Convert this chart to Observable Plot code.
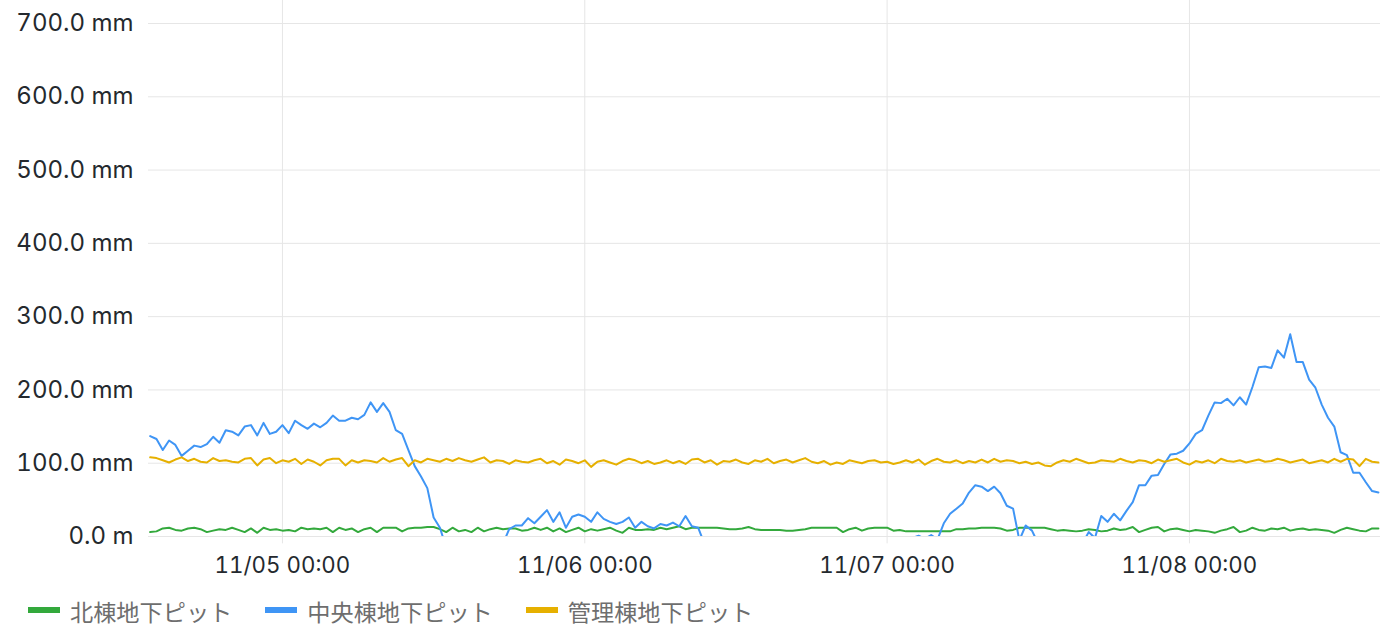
<!DOCTYPE html>
<html>
<head>
<meta charset="utf-8">
<script src="https://cdn.jsdelivr.net/npm/d3@7"></script>
<script src="https://cdn.jsdelivr.net/npm/@observablehq/plot@0.6"></script>
<style>
  body { margin: 0; background: #fff; font-family: Inter, "Noto Sans CJK JP", sans-serif; }
  #chart { position: relative; width: 1380px; }
  .legend { display: flex; align-items: center; margin: 6px 0 0 28px; height: 30px; }
  .legend .item { display: flex; align-items: center; margin-right: 33px; }
  .legend .sw { width: 32px; height: 6px; margin-right: 10px; margin-top: -3px; }
  .legend .lab { font-size: 23.2px; color: #6e6e6e; font-family: "Noto Sans CJK JP", sans-serif; }
</style>
</head>
<body>
<div id="chart"></div>
<script>
// 系列名と色
const series = ["北棟地下ピット", "中央棟地下ピット", "管理棟地下ピット"];
const colors = ["#33a93c", "#3f95f5", "#e6b000"];

// 30分ごとの計測値 (mm)、11/04 13:30 から 11/08 15:00 まで
const start = Date.UTC(2023, 10, 4, 13, 30);
const stepMin = 30;

const kita = [
  6, 7, 11, 12, 9, 8, 11, 12, 10, 6, 8, 10,
  9, 12, 9, 6, 11, 5, 12, 9, 10, 8, 9, 7,
  12, 10, 11, 10, 12, 6, 12, 9, 11, 6, 10, 12,
  6, 12, 12, 12, 7, 11, 12, 12, 13, 13, 10, 6,
  12, 7, 9, 6, 12, 7, 10, 12, 10, 11, 11, 8,
  9, 12, 9, 12, 7, 11, 6, 9, 12, 7, 10, 8,
  10, 12, 8, 5, 12, 9, 9, 10, 9, 12, 10, 12,
  14, 10, 12, 12, 12, 12, 12, 11, 10, 10, 11, 13,
  10, 9, 9, 9, 9, 8, 8, 9, 10, 12, 12, 12,
  12, 12, 6, 10, 12, 8, 11, 12, 12, 12, 8, 9,
  7, 7, 7, 7, 7, 7, 7, 7, 10, 10, 11, 11,
  12, 12, 12, 11, 8, 9, 12, 12, 12, 12, 12, 10,
  8, 9, 8, 7, 8, 10, 9, 7, 8, 11, 9, 10,
  13, 6, 9, 12, 13, 7, 10, 11, 9, 7, 9, 8,
  7, 5, 8, 10, 13, 6, 8, 12, 9, 8, 11, 10,
  12, 8, 10, 11, 9, 10, 9, 8, 5, 9, 12, 10,
  8, 7, 11, 11
];

const chuo = [
  137, 133, 118, 131, 125, 110, 117, 124, 122, 126, 136, 128,
  145, 143, 138, 150, 152, 138, 155, 140, 143, 152, 141, 158,
  152, 147, 154, 149, 155, 165, 158, 158, 162, 160, 166, 183,
  170, 182, 170, 145, 140, 118, 96, 82, 66, 26, 12, -15,
  -30, -40, -45, -50, -45, -40, -35, -25, -10, 10, 15, 15,
  25, 18, 27, 36, 20, 33, 12, 27, 30, 27, 20, 33,
  24, 20, 17, 20, 26, 12, 20, 14, 11, 17, 15, 19,
  14, 28, 14, 12, -10, -30, -45, -55, -60, -65, -70, -70,
  -72, -75, -75, -78, -80, -80, -78, -75, -72, -70, -68, -65,
  -62, -58, -55, -50, -45, -40, -35, -30, -25, -20, -15, -10,
  -8, -2, 1, -3, 2, -4, 18, 31, 38, 45, 60, 70,
  68, 62, 68, 59, 42, 38, -5, 15, 8, -10, -25, -35,
  -40, -38, -30, -20, -10, 6, -2, 28, 20, 31, 22, 35,
  47, 70, 70, 83, 84, 99, 112, 113, 117, 127, 140, 145,
  165, 183, 182, 188, 179, 190, 180, 204, 231, 232, 230, 254,
  244, 276, 238, 238, 214, 203, 180, 162, 150, 115, 111, 87,
  87, 74, 62, 60
];

const kanri = [
  108, 107, 104, 101, 105, 108, 103, 106, 102, 101, 107, 103,
  104, 102, 101, 106, 107, 97, 105, 107, 100, 104, 102, 106,
  99, 105, 102, 97, 104, 106, 106, 97, 104, 101, 104, 103,
  101, 107, 102, 105, 107, 96, 104, 101, 106, 104, 102, 106,
  103, 107, 104, 102, 105, 108, 101, 104, 103, 99, 104, 102,
  101, 104, 106, 100, 103, 98, 105, 103, 100, 104, 95, 102,
  104, 101, 98, 103, 106, 104, 100, 103, 99, 101, 104, 100,
  103, 99, 105, 106, 101, 104, 98, 103, 102, 105, 101, 99,
  104, 102, 106, 100, 103, 105, 101, 104, 107, 102, 100, 103,
  98, 101, 99, 104, 102, 100, 103, 104, 101, 102, 99, 101,
  104, 101, 105, 98, 103, 106, 102, 101, 104, 100, 103, 101,
  105, 101, 106, 102, 104, 103, 100, 102, 99, 101, 97, 96,
  101, 104, 102, 106, 103, 100, 101, 104, 103, 102, 106, 103,
  101, 104, 103, 100, 105, 102, 104, 106, 101, 98, 103, 101,
  104, 100, 106, 103, 102, 104, 101, 103, 105, 102, 103, 106,
  104, 101, 103, 105, 100, 102, 104, 101, 106, 102, 106, 105,
  96, 106, 102, 101
];

// 軸の目盛り
const yTicks = [0, 100, 200, 300, 400, 500, 600, 700];
const yTickLabels = ["0.0 m", "100.0 mm", "200.0 mm", "300.0 mm", "400.0 mm", "500.0 mm", "600.0 mm", "700.0 mm"];
const xTicks = [
  new Date(Date.UTC(2023, 10, 5)),
  new Date(Date.UTC(2023, 10, 6)),
  new Date(Date.UTC(2023, 10, 7)),
  new Date(Date.UTC(2023, 10, 8))
];
const xDomain = [new Date(Date.UTC(2023, 10, 4, 13, 22)), new Date(Date.UTC(2023, 10, 8, 15, 10))];

// 縦長のテーブルにまとめる
const table = [];
[kita, chuo, kanri].forEach((vals, s) => {
  vals.forEach((v, i) => {
    table.push({time: new Date(start + i * stepMin * 60000), value: v, series: series[s]});
  });
});

const fmt = d3.utcFormat("%m/%d %H:%M");

const chart = Plot.plot({
  width: 1380,
  height: 590,
  marginTop: 23,
  marginBottom: 54,
  marginLeft: 148,
  marginRight: 0,
  style: {fontFamily: "Inter, sans-serif", fontSize: "24px", color: "#24292e", overflow: "visible"},
  x: {type: "utc", domain: xDomain, label: null},
  y: {domain: [0, 700], label: null},
  color: {domain: series, range: colors},
  marks: [
    Plot.ruleY(yTicks, {stroke: "#e6e6e6", strokeWidth: 1, strokeOpacity: 1}),
    Plot.ruleX(xTicks, {y1: -10, y2: 732, stroke: "#e6e6e6", strokeWidth: 1, strokeOpacity: 1}),
    Plot.axisY({ticks: yTicks, tickSize: 0, tickPadding: 15, tickFormat: d => yTickLabels[yTicks.indexOf(d)], label: null}),
    Plot.axisX({ticks: xTicks, tickSize: 0, tickPadding: 21, tickFormat: fmt, fontSize: 22.3, label: null}),
    Plot.line(table, {x: "time", y: "value", z: "series", stroke: "series", strokeWidth: 2, clip: true})
  ]
});

d3.select("#chart").append(() => chart);

// 凡例
const legend = d3.select("#chart").append("div").attr("class", "legend");
series.forEach((name, i) => {
  const item = legend.append("div").attr("class", "item");
  item.append("div").attr("class", "sw").style("background", colors[i]);
  item.append("div").attr("class", "lab").text(name);
});
</script>
</body>
</html>
